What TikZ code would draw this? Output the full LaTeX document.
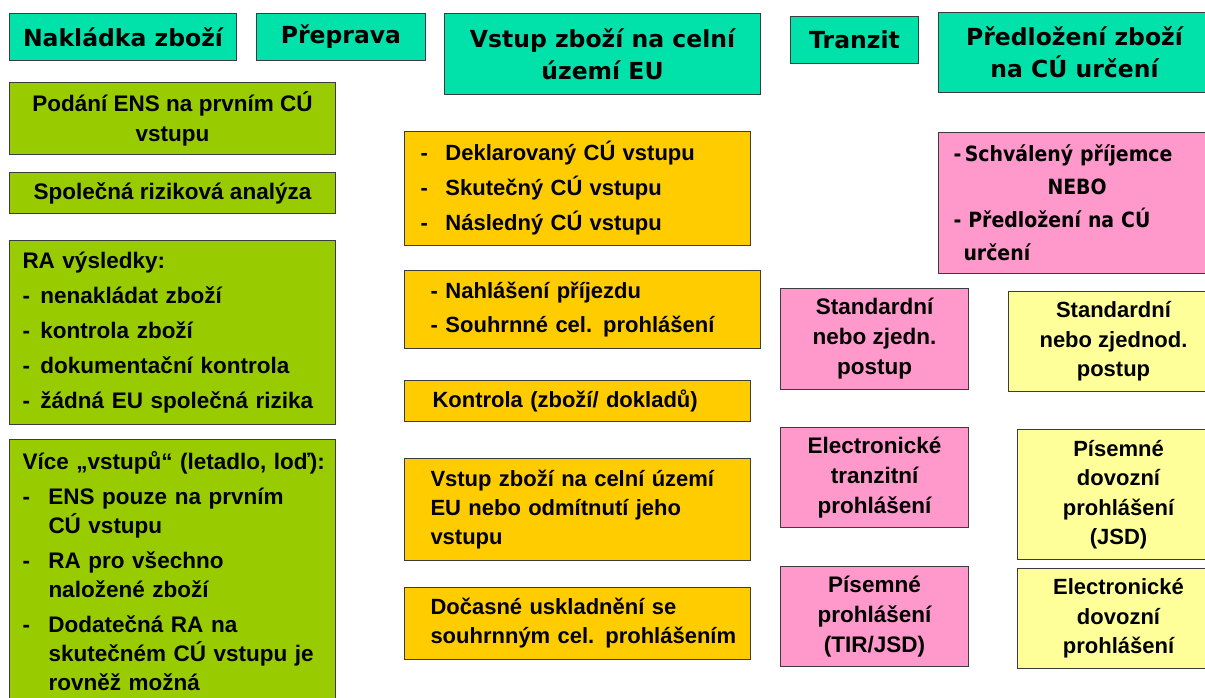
\documentclass[tikz,border=0pt]{standalone}
\usepackage{fontspec}
\setmainfont{Liberation Sans}
\newfontfamily\headfont{DejaVu Sans}
\newfontfamily\condfont{DejaVu Sans Condensed}
\usetikzlibrary{positioning}
\definecolor{headteal}{RGB}{0,226,170}
\definecolor{leafgreen}{RGB}{153,204,0}
\definecolor{amber}{RGB}{255,204,0}
\definecolor{rosepink}{RGB}{255,153,204}
\definecolor{paleyellow}{RGB}{255,255,153}
\definecolor{edge}{RGB}{60,60,60}
\hfuzz=40pt
\newcommand{\bul}[1][18pt]{\makebox[#1][l]{-}}

\begin{document}
\begin{tikzpicture}[x=1pt, y=-1pt,
      box/.style={draw=edge, line width=1pt, anchor=north west,
                inner xsep=0pt, inner ysep=0pt},
      sz/.style 2 args={minimum width=#1pt, minimum height=#2pt},
      lft/.style={align=left, text width=#1pt},
      head/.style={box, fill=headteal, align=center,
                font=\headfont\bfseries\fontsize{23.5}{32}\selectfont},
      grn/.style={box, fill=leafgreen, font=\bfseries\fontsize{22.5}{30}\selectfont},
      org/.style={box, fill=amber, font=\bfseries\fontsize{22}{29}\selectfont},
      pnk/.style={box, fill=rosepink, align=center, font=\bfseries\fontsize{22.5}{30}\selectfont},
      ylw/.style={box, fill=paleyellow, align=center, font=\bfseries\fontsize{22}{29.5}\selectfont}
    ]
      \useasboundingbox (0,0) rectangle (1205,697);
      % column headers
      \node[head, sz={227}{47}] (nak) at (9,13) {Nakládka zboží};
      \node[head, sz={169}{47}] (prep) at (256,13) {Přeprava};
      \node[head, sz={316}{81}] (vstup) at (444,13) {Vstup zboží na celní\\území EU};
      \node[head, sz={128}{47}] (tranzit) at (790,16) {Tranzit};
      \node[head, sz={272}{80}] (predl) at (938,12) {Předložení zboží\\na CÚ určení};
      % loading
      \node[grn, sz={326}{72}, align=center] (ens) at (9,82) {Podání ENS na prvním CÚ\\vstupu};
      \node[grn, sz={326}{41}, align=center] (ra) at (9,172) {Společná riziková analýza};
      \node[grn, sz={326}{184}, lft=300,
            font=\bfseries\fontsize{22.5}{35}\selectfont] (rav) at (9,240)
            {RA výsledky:\\\bul nenakládat zboží\\\bul kontrola zboží\\
             \bul dokumentační kontrola\\\bul žádná EU společná rizika};
      \node[grn, sz={326}{264}, lft=300,
            font=\bfseries\fontsize{22.5}{29}\selectfont] (vice) at (9,439)
            {\mbox{Více „vstupů“ (letadlo, loď):}\\[6pt]
             \bul[26pt]ENS pouze na prvním\\\hspace*{26pt}CÚ vstupu\\[6pt]
             \bul[26pt]RA pro všechno\\\hspace*{26pt}naložené zboží\\[6pt]
             \bul[26pt]Dodatečná RA na\\\hspace*{26pt}\mbox{skutečném CÚ vstupu je}\\
             \hspace*{26pt}rovněž možná};
      % entry
      \node[org, sz={346}{114}, lft=314,
            font=\bfseries\fontsize{22}{35}\selectfont] (dekl) at (404,131)
            {\bul[25pt]Deklarovaný CÚ vstupu\\\bul[25pt]Skutečný CÚ vstupu\\
             \bul[25pt]Následný CÚ vstupu};
      \node[org, sz={356}{78}, lft=304,
            font=\bfseries\fontsize{22}{34}\selectfont] (nahl) at (404,270)
            {\bul[15pt]Nahlášení příjezdu\\\bul[15pt]Souhrnné cel. prohlášení};
      \node[org, sz={346}{41}, lft=290] (kontr) at (404,380)
            {Kontrola (zboží/ dokladů)};
      \node[org, sz={346}{102}, lft=294] (vstz) at (404,458)
            {Vstup zboží na celní území\\EU nebo odmítnutí jeho\\vstupu};
      \node[org, sz={346}{72}, lft=294] (doc) at (404,587)
            {Dočasné uskladnění se\\\mbox{souhrnným cel. prohlášením}};
      % transit
      \node[pnk, sz={188}{101}] (std1) at (780,288) {Standardní\\nebo zjedn.\\postup};
      \node[pnk, sz={188}{100}] (el1) at (780,427) {Electronické\\tranzitní\\prohlášení};
      \node[pnk, sz={188}{100}] (pis1) at (780,566) {Písemné\\prohlášení\\(TIR/JSD)};
      % destination
      \node[pnk, sz={272}{141}, lft=242,
            font=\condfont\bfseries\fontsize{21}{33}\selectfont] (schv) at (938,132)
            {-\,Schválený příjemce\\\hspace*{94pt}NEBO\\- Předložení na CÚ\\\hspace*{10pt}určení};
      \node[ylw, sz={210}{100}] (std2) at (1008,291) {Standardní\\nebo zjednod.\\postup};
      \node[ylw, sz={202}{130}] (pis2) at (1017,429) {Písemné\\dovozní\\prohlášení\\(JSD)};
      \node[ylw, sz={202}{100}] (el2) at (1017,568) {Electronické\\dovozní\\prohlášení};
    \end{tikzpicture}
\end{document}
